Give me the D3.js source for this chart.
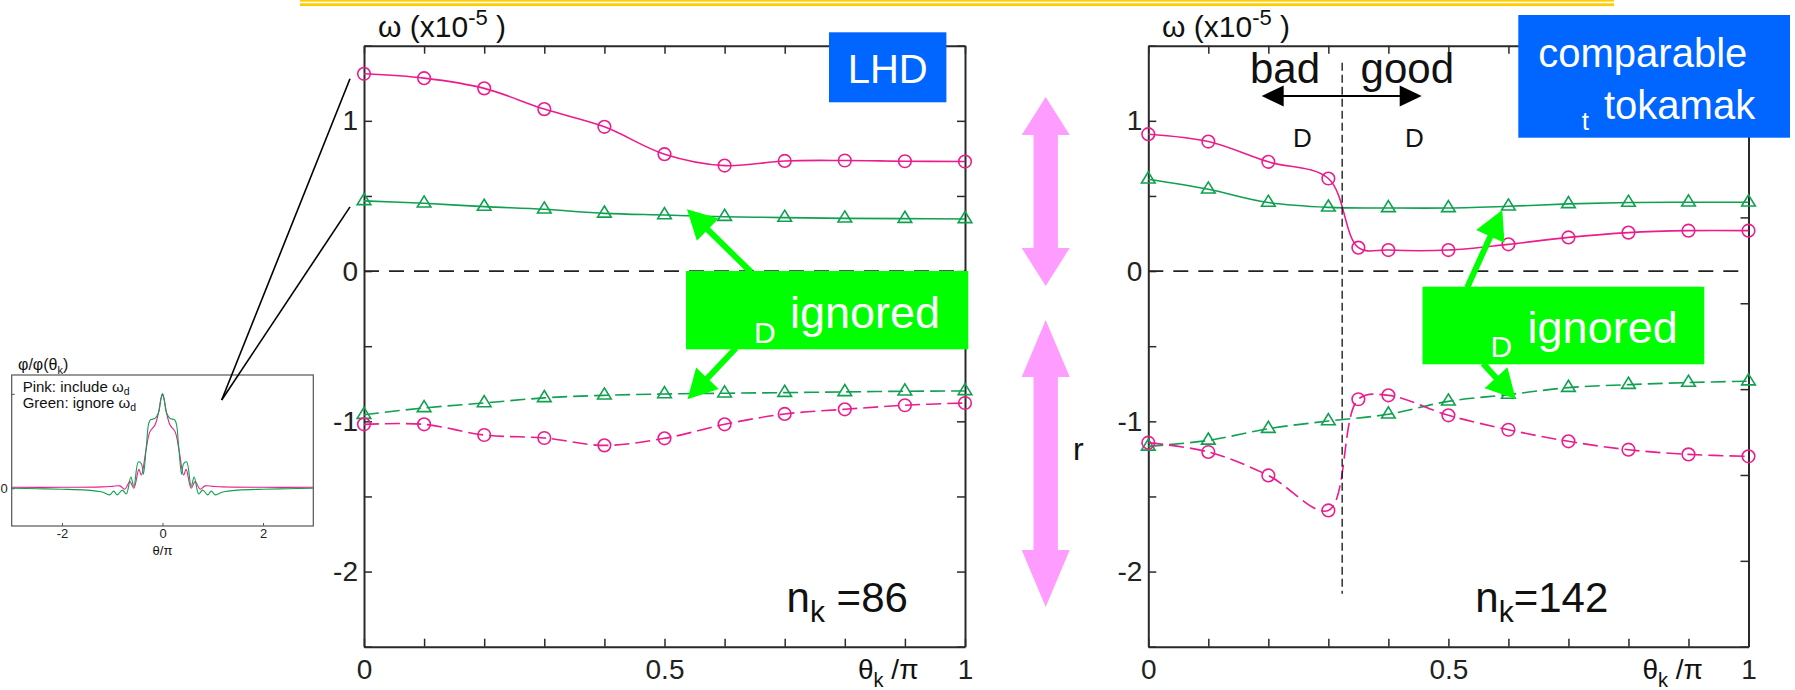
<!DOCTYPE html>
<html><head><meta charset="utf-8">
<script src="https://cdn.jsdelivr.net/npm/d3@7"></script>
<style>
body{margin:0;background:#fff}
svg{display:block}
text{font-family:"Liberation Sans",Arial,Helvetica,sans-serif}
</style>
</head><body>
<svg id="c" width="1795" height="690"></svg>
<script>
// ---------------- DATA ----------------
const thetaK = [0, 0.1, 0.2, 0.3, 0.4, 0.5, 0.6, 0.7, 0.8, 0.9, 1.0];
const thetaKTok = [0, 0.1, 0.2, 0.3, 0.35, 0.4, 0.5, 0.6, 0.7, 0.8, 0.9, 1.0];

// LHD (n_k = 86), omega in units of 1e-5
const lhdIncludeUpper = [1.313, 1.284, 1.216, 1.078, 0.960, 0.778, 0.702, 0.733, 0.736, 0.731, 0.729];
const lhdIgnoreUpper  = [0.467, 0.451, 0.429, 0.411, 0.384, 0.373, 0.362, 0.356, 0.351, 0.349, 0.347];
const lhdIgnoreLower  = [-0.956, -0.911, -0.878, -0.844, -0.827, -0.818, -0.813, -0.809, -0.804, -0.800, -0.798];
const lhdIncludeLower = [-1.020, -1.020, -1.091, -1.111, -1.160, -1.113, -1.020, -0.951, -0.920, -0.893, -0.878];

// comparable tokamak (n_k = 142)
const tokIncludeUpper = [0.911, 0.862, 0.727, 0.616, 0.156, 0.140, 0.140, 0.178, 0.224, 0.256, 0.269, 0.269];
const tokIncludeLower = [-1.142, -1.204, -1.360, -1.593, -0.853, -0.827, -0.960, -1.056, -1.133, -1.189, -1.220, -1.233];
const tokIgnoreUpper  = [0.611, 0.544, 0.456, 0.424, 0.420, 0.420, 0.431, 0.447, 0.456, 0.458, 0.458];
const tokIgnoreLower  = [-1.167, -1.127, -1.049, -0.998, -0.953, -0.867, -0.822, -0.776, -0.756, -0.742, -0.733];

const yTickValues = [-2.5, -2, -1.5, -1, -0.5, 0, 0.5, 1, 1.5];
const yTickLabels = [-2, -1, 0, 1];
const xTickLabels = [0, 0.5, 1];
const boundaryTheta = 0.323;

// inset: mode structure phi/phi(theta_k) vs theta/pi
const insetThetaPink = [-3, -2, -1.2, -1.0, -0.85, -0.75, -0.65, -0.57, -0.47, -0.42, -0.33, -0.25, -0.15, -0.08, -0.03, 0,
                        0.03, 0.08, 0.15, 0.25, 0.33, 0.42, 0.47, 0.57, 0.65, 0.75, 0.85, 1.0, 1.2, 2, 3];
const insetPhiPink   = [0.01, 0.01, 0.015, 0.02, 0.025, -0.01, 0.07, 0.0, 0.2, 0.14, 0.4, 0.6, 0.67, 0.8, 0.95, 1.0,
                        0.95, 0.8, 0.67, 0.6, 0.4, 0.14, 0.2, 0.0, 0.07, -0.01, 0.025, 0.02, 0.015, 0.01, 0.01];
const insetThetaGreen = [-3, -2.5, -2, -1.5, -1.2, -1.05, -0.97, -0.9, -0.8, -0.72, -0.63, -0.57, -0.48, -0.42, -0.38, -0.32, -0.25, -0.15, -0.08, -0.03, 0,
                         0.03, 0.08, 0.15, 0.25, 0.32, 0.38, 0.42, 0.48, 0.57, 0.63, 0.72, 0.8, 0.9, 0.97, 1.05, 1.2, 1.5, 2, 2.5, 3];
const insetPhiGreen   = [0.0, -0.005, -0.01, -0.02, -0.04, -0.07, -0.03, -0.07, -0.02, -0.06, 0.12, 0.02, 0.28, 0.26, 0.15, 0.45, 0.72, 0.74, 0.8, 0.95, 1.0,
                         0.95, 0.8, 0.74, 0.72, 0.45, 0.15, 0.26, 0.28, 0.02, 0.12, -0.06, -0.02, -0.07, -0.03, -0.07, -0.04, -0.02, -0.01, -0.005, 0.0];
const insetXTicks = [-2, 0, 2];

// ---------------- STYLE ----------------
const PINK = "#ec1c8c", GREEN = "#0fa050", AXIS = "#2a2a2a";
const BOX_GREEN = "#00ff00", BOX_BLUE = "#0066ff", ARROW_PINK = "#ff9cff";

const svg = d3.select("#c");
svg.append("rect").attr("width", 1795).attr("height", 690).attr("fill", "#fff");

// top yellow rules
svg.append("rect").attr("x", 300).attr("y", 0).attr("width", 1314).attr("height", 1.6).attr("fill", "#ffcc00");
svg.append("rect").attr("x", 300).attr("y", 3.3).attr("width", 1314).attr("height", 2.8).attr("fill", "#ffcc00");

const TOP = 45.7, BOTTOM = 646.7;
const y = d3.scaleLinear().domain([-2.5, 1.5]).range([BOTTOM, TOP]);

function panel(x0, x1, opts) {
  const x = d3.scaleLinear().domain([0, 1]).range([x0, x1]);
  const g = svg.append("g");
  const xt = d3.range(0, 11).map(i => i / 10);
  const fmtX = d => xTickLabels.includes(+d.toFixed(2)) ? (d === 0 ? "0" : d === 1 ? "1" : "0.5") : "";
  const fmtY = d => yTickLabels.includes(d) ? String(d) : "";
  const axes = [];
  axes.push(g.append("g").attr("transform", `translate(0,${BOTTOM})`)
    .call(d3.axisBottom(x).tickValues(xt).tickSizeInner(-8).tickSizeOuter(0).tickPadding(12).tickFormat(fmtX)));
  axes.push(g.append("g").attr("transform", `translate(0,${TOP})`)
    .call(d3.axisTop(x).tickValues(xt).tickSizeInner(-8).tickSizeOuter(0).tickFormat("")));
  axes.push(g.append("g").attr("transform", `translate(${x0},0)`)
    .call(d3.axisLeft(y).tickValues(yTickValues).tickSizeInner(-8).tickSizeOuter(0).tickPadding(6).tickFormat(fmtY)));
  if (opts.rightScale) {
    axes.push(g.append("g").attr("transform", `translate(${x1},0)`)
      .call(d3.axisRight(opts.rightScale).tickValues(d3.range(0, 8)).tickSizeInner(-8).tickSizeOuter(0).tickFormat("")));
  } else {
    axes.push(g.append("g").attr("transform", `translate(${x1},0)`)
      .call(d3.axisRight(y).tickValues(yTickValues).tickSizeInner(-8).tickSizeOuter(0).tickFormat("")));
  }
  axes.forEach(a => {
    a.selectAll("path.domain").attr("stroke", AXIS).attr("stroke-width", 2);
    a.selectAll(".tick line").attr("stroke", AXIS).attr("stroke-width", 1.5);
    a.selectAll(".tick text").attr("fill", "#222").style("font-size", "28px");
  });
  // zero dashed line
  g.append("line").attr("x1", x(0)).attr("x2", x(1)).attr("y1", y(0)).attr("y2", y(0))
    .attr("stroke", "#222").attr("stroke-width", 1.6).attr("stroke-dasharray", "15,10");
  return {x, g};
}

const curve = d3.curveCatmullRom.alpha(0.5);
function series(p, xs, ys, color, dashed, marker) {
  const pts = xs.map((t, i) => [p.x(t), y(ys[i])]);
  p.g.append("path").attr("d", d3.line().curve(curve)(pts))
    .attr("fill", "none").attr("stroke", color).attr("stroke-width", 1.6)
    .attr("stroke-dasharray", dashed ? "15,6" : null);
  const m = p.g.append("g");
  pts.forEach(([px, py]) => {
    if (marker === "circle") {
      m.append("circle").attr("cx", px).attr("cy", py).attr("r", 6.3)
        .attr("fill", "none").attr("stroke", color).attr("stroke-width", 1.6);
    } else {
      m.append("path").attr("d", `M${px},${py - 7.4}L${px + 6.8},${py + 3.7}L${px - 6.8},${py + 3.7}Z`)
        .attr("fill", "none").attr("stroke", color).attr("stroke-width", 1.6);
    }
  });
}

// ---------------- LEFT PANEL (LHD) ----------------
const L = panel(364, 965, {});
series(L, thetaK, lhdIncludeUpper, PINK, false, "circle");
series(L, thetaK, lhdIgnoreUpper, GREEN, false, "tri");
series(L, thetaK, lhdIgnoreLower, GREEN, true, "tri");
series(L, thetaK, lhdIncludeLower, PINK, true, "circle");

// ---------------- RIGHT PANEL (tokamak) ----------------
const yRight = d3.scaleLinear().domain([0, 7]).range([BOTTOM, TOP]);
const R = panel(1148.3, 1748.5, {rightScale: yRight});
series(R, thetaK, tokIgnoreUpper, GREEN, false, "tri");
series(R, thetaKTok, tokIncludeUpper, PINK, false, "circle");
series(R, thetaK, tokIgnoreLower, GREEN, true, "tri");
series(R, thetaKTok, tokIncludeLower, PINK, true, "circle");

// boundary between bad / good curvature
R.g.append("line").attr("x1", R.x(boundaryTheta)).attr("x2", R.x(boundaryTheta))
  .attr("y1", y(1.387)).attr("y2", y(-2.147))
  .attr("stroke", "#111").attr("stroke-width", 1.3).attr("stroke-dasharray", "8,4");

// ---------------- TEXT helpers ----------------
function rich(x, yb, parts, anchor) {
  const t = svg.append("text").attr("x", x).attr("y", yb).attr("text-anchor", anchor || "start");
  parts.forEach(p => {
    t.append("tspan").text(p.t).style("font-size", p.s + "px")
      .attr("dy", p.dy || 0).attr("fill", p.c || "#111");
  });
  return t;
}

// axis titles
[378, 1162].forEach(x => {
  rich(x, 37, [{t: "ω (x10", s: 30}, {t: "-5", s: 22, dy: -12}, {t: " )", s: 30, dy: 12}]);
});
// bottom x-axis titles
[858, 1642.4].forEach(x => {
  rich(x, 679, [{t: "θ", s: 28}, {t: "k", s: 20, dy: 8}, {t: " /π", s: 28, dy: -8}]);
});

// n_k labels
rich(786.6, 612, [{t: "n", s: 42}, {t: "k", s: 30, dy: 10}, {t: " =86", s: 42, dy: -10}]);
rich(1475.3, 612, [{t: "n", s: 42}, {t: "k", s: 30, dy: 10}, {t: "=142", s: 42, dy: -10}]);

// bad / good
rich(1250, 83.3, [{t: "bad", s: 42}]);
rich(1360.6, 83.3, [{t: "good", s: 42}]);
rich(1293, 147.3, [{t: "D", s: 26}]);
rich(1405, 147.3, [{t: "D", s: 26}]);
// double-headed black arrow
(function () {
  const xa = 1261.7, xb = 1421.7, ya = 96, hl = 22, hw = 10.5;
  svg.append("line").attr("x1", xa + hl - 2).attr("x2", xb - hl + 2).attr("y1", ya).attr("y2", ya)
    .attr("stroke", "#000").attr("stroke-width", 2.2);
  svg.append("path").attr("d", `M${xa},${ya}L${xa + hl},${ya - hw}L${xa + hl},${ya + hw}Z`).attr("fill", "#000");
  svg.append("path").attr("d", `M${xb},${ya}L${xb - hl},${ya - hw}L${xb - hl},${ya + hw}Z`).attr("fill", "#000");
})();

// blue label boxes
svg.append("rect").attr("x", 829).attr("y", 32.3).attr("width", 117.4).attr("height", 70).attr("fill", BOX_BLUE);
rich(887.7, 83, [{t: "LHD", s: 40, c: "#fff"}], "middle");
svg.append("rect").attr("x", 1518.3).attr("y", 15).attr("width", 271.7).attr("height", 122.7).attr("fill", BOX_BLUE);
rich(1538.3, 67.3, [{t: "comparable", s: 40, c: "#fff"}]);
rich(1581.7, 130, [{t: "t", s: 26, c: "#fff"}]);
rich(1604, 119.3, [{t: "tokamak", s: 40, c: "#fff"}]);

// green arrows
function fatArrow(x1, y1, x2, y2, shaftW, headL, headW, color) {
  const dx = x2 - x1, dy = y2 - y1, len = Math.hypot(dx, dy);
  const ux = dx / len, uy = dy / len, nx = -uy, ny = ux;
  const bx = x2 - ux * headL, by = y2 - uy * headL;
  const p = [
    [x1 + nx * shaftW / 2, y1 + ny * shaftW / 2],
    [bx + nx * shaftW / 2, by + ny * shaftW / 2],
    [bx + nx * headW / 2, by + ny * headW / 2],
    [x2, y2],
    [bx - nx * headW / 2, by - ny * headW / 2],
    [bx - nx * shaftW / 2, by - ny * shaftW / 2],
    [x1 - nx * shaftW / 2, y1 - ny * shaftW / 2]
  ];
  svg.append("path").attr("d", "M" + p.map(q => q.join(",")).join("L") + "Z").attr("fill", color);
}
fatArrow(751, 272, 687, 209.3, 6, 29, 31, BOX_GREEN);
fatArrow(736, 348, 687.5, 399.3, 6, 29, 31, BOX_GREEN);
fatArrow(1467.2, 287.5, 1502.3, 210, 6, 29, 31, BOX_GREEN);
fatArrow(1483, 363.5, 1515.7, 399, 6, 29, 31, BOX_GREEN);

// green "ignored" boxes
svg.append("rect").attr("x", 686).attr("y", 271).attr("width", 282.3).attr("height", 78.3).attr("fill", BOX_GREEN);
rich(754, 343, [{t: "D", s: 30, c: "#fff"}]);
rich(790, 328.3, [{t: "ignored", s: 45, c: "#fff"}]);
svg.append("rect").attr("x", 1422.5).attr("y", 286.7).attr("width", 281.8).attr("height", 77.6).attr("fill", BOX_GREEN);
rich(1490.4, 356.7, [{t: "D", s: 30, c: "#fff"}]);
rich(1527.6, 343.3, [{t: "ignored", s: 45, c: "#fff"}]);

// pink double arrows (central)
function vDouble(cx, yTop, yBot, headTop, headBot, shaftHalf, headHalf) {
  const d = `M${cx},${yTop}L${cx + headHalf},${yTop + headTop}L${cx + shaftHalf},${yTop + headTop}` +
    `L${cx + shaftHalf},${yBot - headBot}L${cx + headHalf},${yBot - headBot}L${cx},${yBot}` +
    `L${cx - headHalf},${yBot - headBot}L${cx - shaftHalf},${yBot - headBot}` +
    `L${cx - shaftHalf},${yTop + headTop}L${cx - headHalf},${yTop + headTop}Z`;
  svg.append("path").attr("d", d).attr("fill", ARROW_PINK);
}
vDouble(1045.7, 97, 286, 38, 38, 12.2, 24);
vDouble(1045.7, 320, 607, 57, 57, 12.2, 24);
rich(1073, 460, [{t: "r", s: 32}]);

// ---------------- INSET ----------------
const xi = d3.scaleLinear().domain([-3, 3]).range([11.7, 313.3]);
const yi = d3.scaleLinear().domain([-0.4, 1.2]).range([526, 375]);
const ig = svg.append("g");
ig.append("rect").attr("x", xi(-3)).attr("y", yi(1.2)).attr("width", xi(3) - xi(-3)).attr("height", yi(-0.4) - yi(1.2))
  .attr("fill", "none").attr("stroke", "#555").attr("stroke-width", 1.2);
const ia = ig.append("g").attr("transform", `translate(0,${yi(-0.4)})`)
  .call(d3.axisBottom(xi).tickValues(insetXTicks).tickSizeInner(-3).tickSizeOuter(0).tickPadding(3).tickFormat(d => String(d)));
ia.select("path.domain").remove();
ia.selectAll(".tick line").attr("stroke", "#555");
ia.selectAll(".tick text").style("font-size", "13px").attr("fill", "#222");
const iy = ig.append("g").attr("transform", `translate(${xi(-3)},0)`)
  .call(d3.axisLeft(yi).tickValues([0, 1]).tickSizeInner(-3).tickSizeOuter(0).tickPadding(4).tickFormat(d => d === 0 ? "0" : ""));
iy.select("path.domain").remove();
iy.selectAll(".tick line").attr("stroke", "#555");
iy.selectAll(".tick text").style("font-size", "13px").attr("fill", "#222");
const iLine = d3.line().curve(d3.curveCatmullRom.alpha(0.5));
ig.append("path").attr("d", iLine(insetThetaPink.map((t, i) => [xi(t), yi(insetPhiPink[i])])))
  .attr("fill", "none").attr("stroke", PINK).attr("stroke-width", 1.1);
ig.append("path").attr("d", iLine(insetThetaGreen.map((t, i) => [xi(t), yi(insetPhiGreen[i])])))
  .attr("fill", "none").attr("stroke", GREEN).attr("stroke-width", 1.1);
rich(18, 370, [{t: "φ/φ(θ", s: 16}, {t: "k", s: 11, dy: 4}, {t: ")", s: 16, dy: -4}]);
rich(22.7, 391.7, [{t: "Pink: include  ω", s: 15}, {t: "d", s: 10.5, dy: 3}]);
rich(22.7, 408.3, [{t: "Green: ignore ω", s: 15}, {t: "d", s: 10.5, dy: 3}]);
rich(xi(0), 555, [{t: "θ/π", s: 13}], "middle");

// zoom lines from inset to first points of left panel
svg.append("line").attr("x1", 221.7).attr("y1", 400).attr("x2", L.x(0) - 14).attr("y2", y(lhdIncludeUpper[0]) + 5)
  .attr("stroke", "#000").attr("stroke-width", 1.6);
svg.append("line").attr("x1", 221.7).attr("y1", 400).attr("x2", L.x(0) - 14).attr("y2", y(lhdIgnoreUpper[0]) + 6)
  .attr("stroke", "#000").attr("stroke-width", 1.6);
</script>
</body></html>
